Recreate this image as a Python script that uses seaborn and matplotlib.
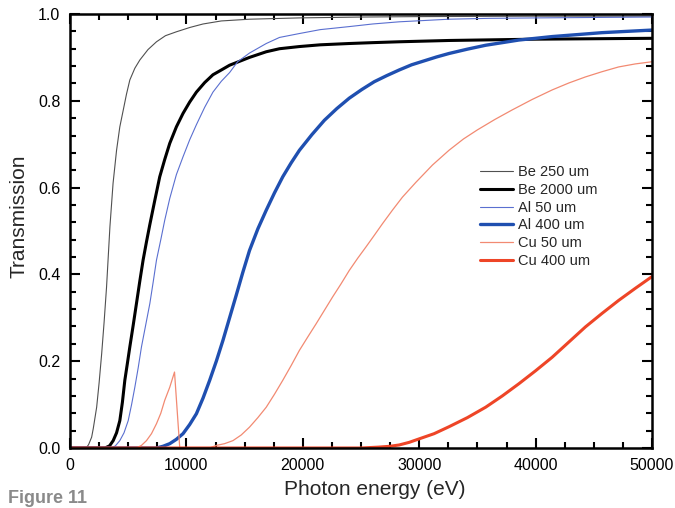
import numpy as np
import pandas as pd
import seaborn as sns
import matplotlib
matplotlib.use("Agg")
import matplotlib.pyplot as plt
from matplotlib.ticker import MultipleLocator, FormatStrFormatter

# ---- data ----
be250_E = [0, 1400, 1600, 1860, 2000, 2290, 2500, 2720, 2930, 3140, 3430, 3700, 4000, 4280,
           4570, 4850, 5140, 5570, 6000, 6700, 7430, 8200, 9140, 10300, 11430, 13000, 15420,
           19700, 25000, 30000, 40000, 50000]
be250_T = [0, 0, 0.008, 0.025, 0.045, 0.094, 0.15, 0.217, 0.29, 0.371, 0.51, 0.61, 0.686, 0.74,
           0.778, 0.815, 0.848, 0.875, 0.894, 0.918, 0.936, 0.95, 0.959, 0.969, 0.977, 0.984, 0.988,
           0.991, 0.993, 0.994, 0.995, 0.995]

be2000_E = [0, 3000, 3400, 3710, 4000, 4280, 4500, 4710, 4930, 5140, 5430, 5710, 6000, 6280,
            6570, 6860, 7280, 7710, 8140, 8570, 9140, 9710, 10280, 10860, 11570, 12280, 13000,
            13710, 14570, 15420, 16860, 18000, 19710, 21500, 23990, 26000, 28280, 32560, 40000,
            50000]
be2000_T = [0, 0, 0.005, 0.017, 0.035, 0.063, 0.105, 0.156, 0.195, 0.233, 0.283, 0.333, 0.385,
            0.433, 0.475, 0.515, 0.57, 0.625, 0.665, 0.702, 0.74, 0.771, 0.797, 0.82, 0.842, 0.86,
            0.871, 0.882, 0.891, 0.9, 0.913, 0.92, 0.925, 0.929, 0.932, 0.934, 0.936, 0.939, 0.942,
            0.944]

al50_E = [0, 3570, 3900, 4280, 4640, 5000, 5290, 5570, 5860, 6140, 6500, 6860, 7150, 7430,
          7800, 8140, 8570, 9140, 9710, 10280, 10860, 11570, 12280, 13000, 13710, 14400, 15420,
          16860, 18000, 19710, 21500, 23990, 26000, 28280, 32560, 36000, 40000, 50000]
al50_T = [0, 0, 0.005, 0.017, 0.035, 0.063, 0.1, 0.14, 0.185, 0.233, 0.283, 0.333, 0.383, 0.433,
          0.48, 0.525, 0.575, 0.63, 0.671, 0.71, 0.745, 0.785, 0.82, 0.845, 0.865, 0.89, 0.91,
          0.932, 0.946, 0.955, 0.964, 0.971, 0.977, 0.982, 0.988, 0.99, 0.991, 0.993]

al400_E = [0, 7430, 8000, 8570, 9140, 9710, 10280, 10860, 11430, 12000, 12570, 13140, 13710,
           14280, 14850, 15420, 16140, 16860, 17570, 18280, 19000, 19710, 20780, 21850, 22920,
           23990, 25070, 26140, 27210, 28280, 29350, 30420, 31490, 32560, 34140, 35710, 37140,
           38560, 40000, 41420, 42850, 44280, 45700, 47130, 48570, 50000]
al400_T = [0, 0, 0.004, 0.01, 0.02, 0.033, 0.054, 0.079, 0.115, 0.156, 0.2, 0.248, 0.3,
           0.352, 0.405, 0.455, 0.505, 0.548, 0.588, 0.625, 0.657, 0.686, 0.722, 0.755, 0.782,
           0.806, 0.826, 0.844, 0.858, 0.871, 0.883, 0.892, 0.901, 0.909, 0.919, 0.928, 0.934,
           0.940, 0.944, 0.948, 0.951, 0.954, 0.957, 0.959, 0.961, 0.963]

cu50_E = [0, 5710, 6140, 6570, 7000, 7430, 7800, 8140, 8570, 8979, 9430, 12000, 12570, 13280,
          14000, 14710, 15420, 16140, 16860, 17570, 18280, 19000, 19710, 20430, 21140, 21850,
          22560, 23280, 23990, 24710, 25420, 26140, 26850, 27700, 28560, 29710, 31140, 32560,
          33800, 35000, 36500, 37990, 39700, 41420, 42850, 44280, 45700, 47130, 48570, 50000]
cu50_T = [0, 0, 0.006, 0.017, 0.033, 0.056, 0.08, 0.11, 0.14, 0.175, 0, 0, 0.006, 0.01,
          0.017, 0.03, 0.048, 0.07, 0.094, 0.124, 0.156, 0.19, 0.225, 0.256, 0.286, 0.317,
          0.348, 0.378, 0.409, 0.437, 0.463, 0.49, 0.517, 0.548, 0.578, 0.612, 0.652, 0.686,
          0.712, 0.733, 0.757, 0.779, 0.803, 0.825, 0.841, 0.855, 0.867, 0.878, 0.885, 0.89]

cu400_E = [0, 25000, 26500, 27500, 28280, 29140, 29990, 31280, 32560, 34140, 35710, 37140,
           38560, 40000, 41420, 42850, 44280, 45700, 47130, 48570, 50000]
cu400_T = [0, 0, 0.002, 0.004, 0.007, 0.013, 0.021, 0.033, 0.049, 0.07, 0.094, 0.12,
           0.148, 0.178, 0.209, 0.244, 0.279, 0.31, 0.340, 0.368, 0.395]

labels = ["Be 250 um", "Be 2000 um", "Al 50 um", "Al 400 um", "Cu 50 um", "Cu 400 um"]
xs = [be250_E, be2000_E, al50_E, al400_E, cu50_E, cu400_E]
ys = [be250_T, be2000_T, al50_T, al400_T, cu50_T, cu400_T]

colors = ["#505050", "#000000", "#5a6fd0", "#1f4fb0", "#f28a72", "#ee4527"]
widths = [0.8, 2.2, 0.8, 2.4, 0.9, 2.2]

frames = []
for lab, x, y in zip(labels, xs, ys):
    frames.append(pd.DataFrame({"E": x, "T": y, "series": lab}))
df = pd.concat(frames, ignore_index=True)

sns.set_style("white")
plt.rcParams["font.family"] = ["Liberation Sans", "DejaVu Sans"]

fig = plt.figure(figsize=(6.75, 5.08), dpi=100)
ax = fig.add_axes([70/675, 1 - 448/508, 582/675, 434/508])

for lab, c, w in zip(labels, colors, widths):
    sub = df[df["series"] == lab]
    sns.lineplot(data=sub, x="E", y="T", ax=ax, color=c, linewidth=w, label=lab,
                 sort=False, estimator=None)

ax.set_xlim(0, 50000)
ax.set_ylim(0, 1.0)
ax.xaxis.set_major_locator(MultipleLocator(10000))
ax.xaxis.set_minor_locator(MultipleLocator(2500))
ax.yaxis.set_major_locator(MultipleLocator(0.2))
ax.yaxis.set_minor_locator(MultipleLocator(0.04))
ax.yaxis.set_major_formatter(FormatStrFormatter("%.1f"))
ax.tick_params(which="both", direction="in", top=True, right=True, bottom=True, left=True,
               width=1.5, colors="black")
ax.tick_params(which="major", length=7, labelsize=11.5, pad=7)
ax.tick_params(which="minor", length=4)
for s in ax.spines.values():
    s.set_visible(True)
    s.set_linewidth(1.8)
    s.set_color("black")

ax.set_xlabel("Photon energy (eV)", fontsize=15)
ax.set_ylabel("Transmission", fontsize=15)
ax.xaxis.set_label_coords((375 - 70) / 582, (448 - 480) / 434)
ax.yaxis.set_label_coords((28 - 70) / 582, (448 - 216) / 434)

leg = ax.legend(loc="upper left", bbox_to_anchor=(0.7045, 0.652), frameon=False,
                fontsize=10.5, handlelength=2.26, handletextpad=0.35, labelspacing=0.26,
                borderpad=0, borderaxespad=0)

fig.text(0.012, 1 - 490/508, "Figure 11", fontsize=13, fontweight="bold",
         color="#8a8a8a", va="top", ha="left")

fig.savefig("out.png", dpi=100)
